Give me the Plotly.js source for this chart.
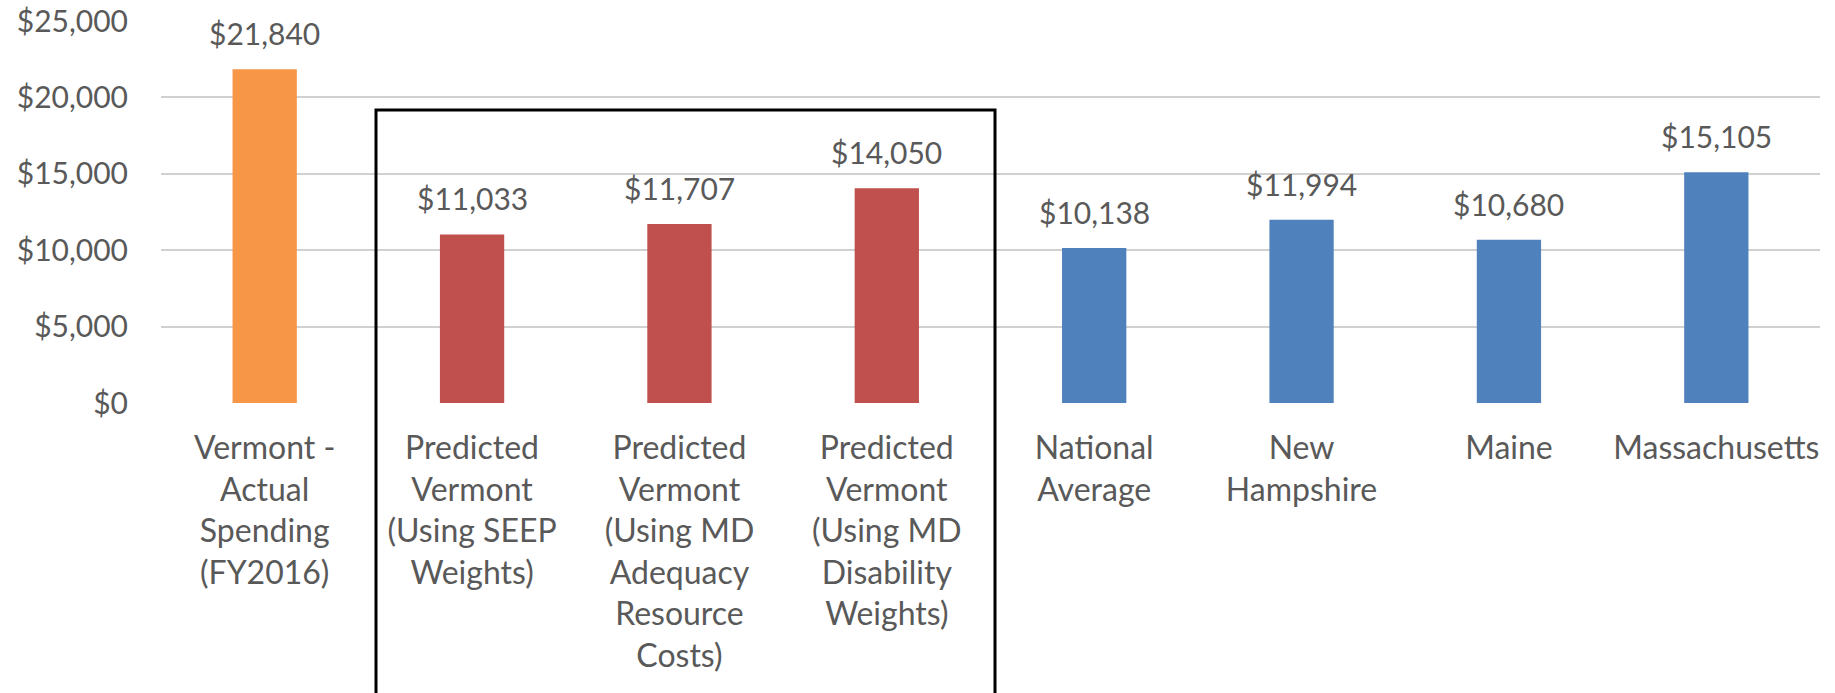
<!DOCTYPE html>
<html>
<head>
<meta charset="utf-8">
<script src="https://cdn.plot.ly/plotly-3.0.1.min.js"></script>
<style>
  html, body { margin: 0; padding: 0; background: #ffffff; }
  #chart { width: 1835px; height: 693px; }
</style>
</head>
<body>
<div id="chart"></div>
<script>
// ---- data ----
const categories = [
  "Vermont -<br>Actual<br>Spending<br>(FY2016)",
  "Predicted<br>Vermont<br>(Using SEEP<br>Weights)",
  "Predicted<br>Vermont<br>(Using MD<br>Adequacy<br>Resource<br>Costs)",
  "Predicted<br>Vermont<br>(Using MD<br>Disability<br>Weights)",
  "National<br>Average",
  "New<br>Hampshire",
  "Maine",
  "Massachusetts"
];
const values = [21840, 11033, 11707, 14050, 10138, 11994, 10680, 15105];
const groups = ["actual", "predicted", "predicted", "predicted", "state", "state", "state", "state"];
const yTickValues = [0, 5000, 10000, 15000, 20000, 25000];

// ---- styling ----
const groupColors = { actual: "#F79646", predicted: "#C0504D", state: "#4F81BD" };
const FONT = "Lato, 'Open Sans', sans-serif";
const TEXT_COLOR = "#595959";

const fmt = v => "$" + v.toLocaleString("en-US");

const trace = {
  type: "bar",
  x: categories,
  y: values,
  width: 0.31,
  marker: { color: groups.map(g => groupColors[g]), line: { width: 0 } },
  hoverinfo: "x+y"
};

const annotations = categories.map((c, i) => ({
  x: c, y: values[i], xref: "x", yref: "y",
  text: fmt(values[i]),
  showarrow: false,
  yanchor: "bottom",
  yshift: 16,
  font: { family: FONT, size: 30, color: TEXT_COLOR }
}));

const layout = {
  width: 1835, height: 693,
  margin: { l: 161, r: 15, t: 21, b: 290 },
  paper_bgcolor: "#ffffff",
  plot_bgcolor: "#ffffff",
  showlegend: false,
  bargap: 0.69,
  xaxis: {
    type: "category",
    showgrid: false,
    zeroline: false,
    showline: false,
    ticks: "",
    ticklabelstandoff: 23,
    tickangle: 0,
    tickfont: { family: FONT, size: 32, color: TEXT_COLOR },
    fixedrange: true
  },
  yaxis: {
    range: [0, 25000],
    tickvals: yTickValues,
    ticktext: yTickValues.map(fmt),
    showgrid: true,
    gridcolor: "#D0D0D0",
    gridwidth: 2,
    zeroline: false,
    showline: false,
    ticks: "",
    ticklabelstandoff: 32,
    tickfont: { family: FONT, size: 30, color: TEXT_COLOR },
    fixedrange: true
  },
  annotations: annotations,
  shapes: [{
    type: "rect",
    xref: "paper", yref: "paper",
    x0: (376 - 161) / 1659, x1: (995 - 161) / 1659,
    y0: -0.9, y1: (403 - 110) / 382,
    line: { color: "#000000", width: 3 },
    fillcolor: "rgba(0,0,0,0)",
    layer: "above"
  }]
};

Plotly.newPlot("chart", [trace], layout, { displayModeBar: false, staticPlot: true });
</script>
</body>
</html>
